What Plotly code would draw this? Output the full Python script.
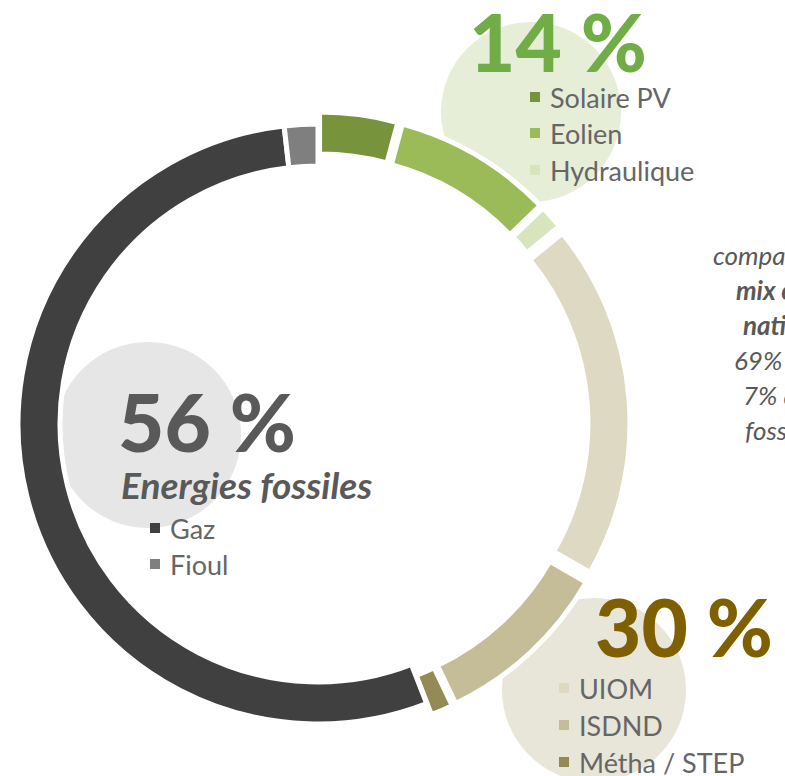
import plotly.graph_objects as go

W, H = 785, 776

# ---- data ----
labels = ["Solaire PV", "Eolien", "Hydraulique", "UIOM", "ISDND", "Métha / STEP", "Gaz", "Fioul"]
values = [4.2, 8.6, 1.3, 19.2, 9.6, 1.2, 54.1, 1.8]
colors = ["#77933C", "#9BBB59", "#D7E4BD", "#DDD9C3", "#C4BD97", "#948A54", "#404040", "#7F7F7F"]
pulls = [0.04, 0.04, 0.04, 0.04, 0.04, 0.04, 0.0, 0.0]
group_renew = [0, 1, 2]
group_bio = [3, 4, 5]
group_fossil = [6, 7]
side_lines = ["comparaison,", "mix électrique", "national :", "69% nucléaire", "7% d'énergies", "fossiles"]
side_bold = [False, True, True, False, False, False]


def px(x):
    return x / W


def py(y):
    return 1 - y / H


def pct(idx):
    return f"{round(sum(values[i] for i in idx))} %"


# donut geometry (pixels)
cx, cy, r = 318, 424, 300
maxpull = max(pulls)
half = r * (1 + maxpull)

fig = go.Figure()
fig.add_trace(go.Pie(
    labels=labels, values=values, sort=False, direction="clockwise", rotation=0,
    hole=0.86, pull=pulls,
    marker=dict(colors=colors, line=dict(color="white", width=5)),
    textinfo="none", hoverinfo="label+percent", showlegend=False,
    domain=dict(x=[px(cx - half), px(cx + half)], y=[py(cy + half), py(cy - half)]),
))

shapes = []
# background circles
for (ccx, ccy, rr, col) in [(531, 112, 90, "#E6EED8"), (148, 435, 93, "#E6E6E6"), (594, 690, 92, "#E8E5D9")]:
    shapes.append(dict(type="circle", xref="paper", yref="paper", layer="below",
                       x0=px(ccx - rr), x1=px(ccx + rr), y0=py(ccy + rr), y1=py(ccy - rr),
                       fillcolor=col, line=dict(width=0)))

annotations = []
font_family = "Lato, 'Open Sans', sans-serif"

# big numbers
big = [(pct(group_renew), 467, 41, "#70AD47"),
       (pct(group_fossil), 116, 421, "#595959"),
       (pct(group_bio), 593, 626, "#7F6000")]
for (t, x, y, c) in big:
    annotations.append(dict(text=t, x=px(x), y=py(y), xref="paper", yref="paper",
                            xanchor="left", yanchor="middle", showarrow=False,
                            font=dict(family=font_family, size=80, color=c, weight=900)))

annotations.append(dict(text="<i>Energies fossiles</i>", x=px(119), y=py(484), xref="paper", yref="paper",
                        xanchor="left", yanchor="middle", showarrow=False,
                        font=dict(family=font_family, size=37, color="#595959", weight="bold")))

# legend entries
legend_pos = [(530, 97), (530, 133), (530, 170),
              (559, 688), (559, 725), (559, 762),
              (150, 528), (150, 564)]
sq = 10
for i, (lx, ly) in enumerate(legend_pos):
    shapes.append(dict(type="rect", xref="paper", yref="paper", layer="above",
                       x0=px(lx), x1=px(lx + sq), y0=py(ly + sq / 2), y1=py(ly - sq / 2),
                       fillcolor=colors[i], line=dict(width=0)))
    annotations.append(dict(text=labels[i], x=px(lx + sq + 8), y=py(ly), xref="paper", yref="paper",
                            xanchor="left", yanchor="middle", showarrow=False,
                            font=dict(family=font_family, size=27, color="#666666")))

# side text (cut off at the right edge)
side_pos = [(711, 255), (734, 290), (741, 325), (732, 360), (741, 395), (743, 430)]
for t, b, (sx, sy) in zip(side_lines, side_bold, side_pos):
    annotations.append(dict(text=f"<i>{t}</i>", x=px(sx), y=py(sy), xref="paper", yref="paper",
                            xanchor="left", yanchor="middle", showarrow=False,
                            font=dict(family=font_family, size=26, color="#595959",
                                      weight="bold" if b else "normal")))

fig.update_layout(width=W, height=H, margin=dict(l=0, r=0, t=0, b=0),
                  paper_bgcolor="white", plot_bgcolor="white",
                  shapes=shapes, annotations=annotations)

fig.write_html("out.html")
